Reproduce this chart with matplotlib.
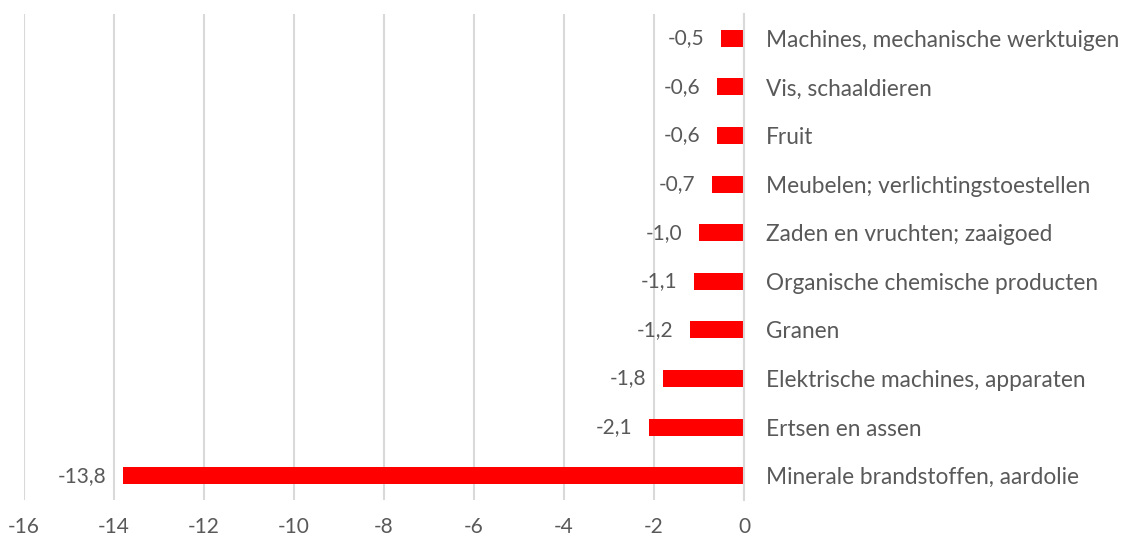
import matplotlib
matplotlib.use("Agg")
import matplotlib.pyplot as plt
import numpy as np

# categories top -> bottom, values in %
categories = [
    "Machines, mechanische werktuigen",
    "Vis, schaaldieren",
    "Fruit",
    "Meubelen; verlichtingstoestellen",
    "Zaden en vruchten; zaaigoed",
    "Organische chemische producten",
    "Granen",
    "Elektrische machines, apparaten",
    "Ertsen en assen",
    "Minerale brandstoffen, aardolie",
]
values = [-0.5, -0.6, -0.6, -0.7, -1.0, -1.1, -1.2, -1.8, -2.1, -13.8]
xticks = [-16, -14, -12, -10, -8, -6, -4, -2, 0]

TEXT = "#595959"
GRID = "#d9d9d9"
FONT = ["Lato", "DejaVu Sans"]

plt.rcParams["font.family"] = FONT

fig = plt.figure(figsize=(11.24, 5.4), dpi=100)
ax = fig.add_axes([0.0214, 0.074, 0.6405, 0.900])

y = np.arange(len(categories))[::-1]
ax.barh(y, values, height=0.35, color="#ff0000", zorder=3)

for yi, v in zip(y, values):
    ax.annotate(f"{v:.1f}".replace(".", ","), xy=(v, yi), xytext=(-12, 0),
                textcoords="offset points", ha="right", va="center",
                fontsize=15, color=TEXT)

ax.set_xlim(-16, 0)
ax.set_ylim(-0.5, len(categories) - 0.5)
ax.set_xticks(xticks)
ax.set_xticklabels([str(t) for t in xticks], fontsize=15, color=TEXT)
ax.xaxis.grid(True, color=GRID, linewidth=1.5, zorder=0)
ax.axvline(0, color=GRID, linewidth=1.5, zorder=4, clip_on=False)
ax.tick_params(axis="x", length=0, pad=12)

ax.yaxis.tick_right()
ax.set_yticks(y)
ax.set_yticklabels(categories, fontsize=16.3, color=TEXT)
ax.tick_params(axis="y", length=0, pad=16)

for s in ax.spines.values():
    s.set_visible(False)

plt.savefig("out.png", dpi=100)
